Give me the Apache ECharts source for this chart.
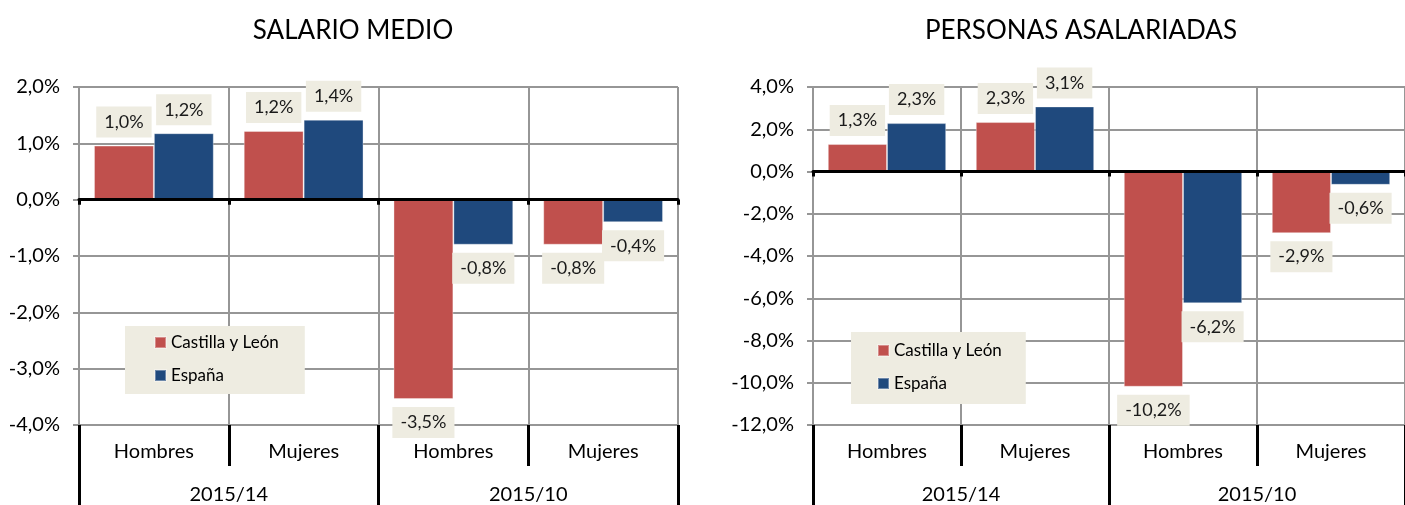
<!DOCTYPE html>
<html>
<head>
<meta charset="utf-8">
<script src="https://cdn.jsdelivr.net/npm/echarts@6/dist/echarts.min.js"></script>
<style>
  html, body { margin: 0; padding: 0; background: #fff; }
  #chart { width: 1405px; height: 505px; }
</style>
</head>
<body>
<div id="chart"></div>
<script>
// categories
var groups = ['Hombres', 'Mujeres', 'Hombres', 'Mujeres'];
var periods = ['2015/14', '2015/10'];
var seriesNames = ['Castilla y León', 'España'];
var titles = ['SALARIO MEDIO', 'PERSONAS ASALARIADAS'];

// values (%)
var salarioCyL = [0.96, 1.22, -3.54, -0.80];
var salarioEsp = [1.18, 1.42, -0.80, -0.40];
var personasCyL = [1.30, 2.34, -10.19, -2.92];
var personasEsp = [2.29, 3.08, -6.24, -0.63];

// y axis ranges
var salarioTicks = { min: -4, max: 2, interval: 1 };
var personasTicks = { min: -12, max: 4, interval: 2 };

var FONT = 'Lato, "Open Sans", sans-serif';
var GRID_COLOR = '#969696';
var RED = '#C0504D';
var BLUE = '#1F497D';
var LABEL_BG = '#EEECE1';

function pct(v) {
   return v.toFixed(1).replace('.', ',') + '%';
}

function barData(values) {
   return values.map(function (v) {
      return { value: v, label: { position: v < 0 ? 'bottom' : 'top' } };
   });
}

function xAxes(g) {
   return [
      { // zero line + vertical grid
         type: 'category', gridIndex: g, data: groups, position: 'bottom', z: 3,
         axisLine: { show: true, onZero: true, lineStyle: { color: '#000', width: 3 } },
         axisTick: { show: true, interval: 0, alignWithLabel: false, length: 5, lineStyle: { color: '#000', width: 3 } },
         axisLabel: { show: false },
         splitLine: { show: true, interval: 0, lineStyle: { color: GRID_COLOR, width: 2 } }
      },
      { // first label row
         type: 'category', gridIndex: g, data: groups, position: 'bottom',
         axisLine: { show: true, onZero: false, lineStyle: { color: GRID_COLOR, width: 2 } },
         axisTick: { show: true, interval: 0, alignWithLabel: false, length: 41, lineStyle: { color: '#000', width: 3 } },
         axisLabel: { margin: 17, fontSize: 20, color: '#000', fontFamily: FONT },
         splitLine: { show: false }
      },
      { // second label row
         type: 'category', gridIndex: g, data: periods, position: 'bottom',
         axisLine: { show: false, onZero: false },
         axisTick: { show: true, interval: 0, alignWithLabel: false, length: 90, lineStyle: { color: '#000', width: 3 } },
         axisLabel: { margin: 60, fontSize: 20, color: '#000', fontFamily: FONT },
         splitLine: { show: false }
      }
   ];
}

function yAxis(g, t) {
   return {
      type: 'value', gridIndex: g, min: t.min, max: t.max, interval: t.interval,
      axisLine: { show: true, lineStyle: { color: GRID_COLOR, width: 2 } },
      axisTick: { show: true, length: 6, lineStyle: { color: GRID_COLOR, width: 2 } },
      axisLabel: { formatter: pct, fontSize: 20, color: '#000', margin: 19, fontFamily: FONT },
      splitLine: { show: true, lineStyle: { color: GRID_COLOR, width: 2 } }
   };
}

function bars(name, values, xi, yi, color) {
   return {
      name: name, type: 'bar', xAxisIndex: xi, yAxisIndex: yi,
      data: barData(values),
      barCategoryGap: '20%', barGap: '0%',
      itemStyle: { color: color, borderColor: 'rgba(255,255,255,0.35)', borderWidth: 1 },
      label: {
         show: true, distance: 8,
         formatter: function (p) { return pct(p.value); },
         backgroundColor: LABEL_BG, padding: [7, 8],
         fontSize: 18, lineHeight: 17, color: '#1a1a1a', fontFamily: FONT
      },
      emphasis: { disabled: true }
   };
}

function legend(left, top, padding) {
   return {
      data: seriesNames, orient: 'vertical', left: left, top: top,
      backgroundColor: LABEL_BG, padding: padding,
      itemWidth: 11, itemHeight: 11, itemGap: 16, icon: 'rect',
      textStyle: { fontSize: 17, color: '#000', fontFamily: FONT },
      selectedMode: false
   };
}

var chart = echarts.init(document.getElementById('chart'));
var option = {
   animation: false,
   title: [
      { text: titles[0], left: 348, top: 13, textAlign: 'center',
        textStyle: { fontSize: 26, fontWeight: 'normal', color: '#000', fontFamily: FONT } },
      { text: titles[1], left: 1076, top: 13, textAlign: 'center',
        textStyle: { fontSize: 26, fontWeight: 'normal', color: '#000', fontFamily: FONT } }
   ],
   legend: [
      legend(125, 326, [8, 26, 10, 29]),
      legend(851, 332, [10, 24, 12, 26])
   ],
   grid: [
      { left: 79, top: 87, width: 599, height: 338 },
      { left: 813, top: 87, width: 599, height: 338 }
   ],
   xAxis: xAxes(0).concat(xAxes(1)),
   yAxis: [yAxis(0, salarioTicks), yAxis(1, personasTicks)],
   series: [
      bars(seriesNames[0], salarioCyL, 0, 0, RED),
      bars(seriesNames[1], salarioEsp, 0, 0, BLUE),
      bars(seriesNames[0], personasCyL, 3, 1, RED),
      bars(seriesNames[1], personasEsp, 3, 1, BLUE)
   ]
};
chart.setOption(option);
</script>
</body>
</html>
